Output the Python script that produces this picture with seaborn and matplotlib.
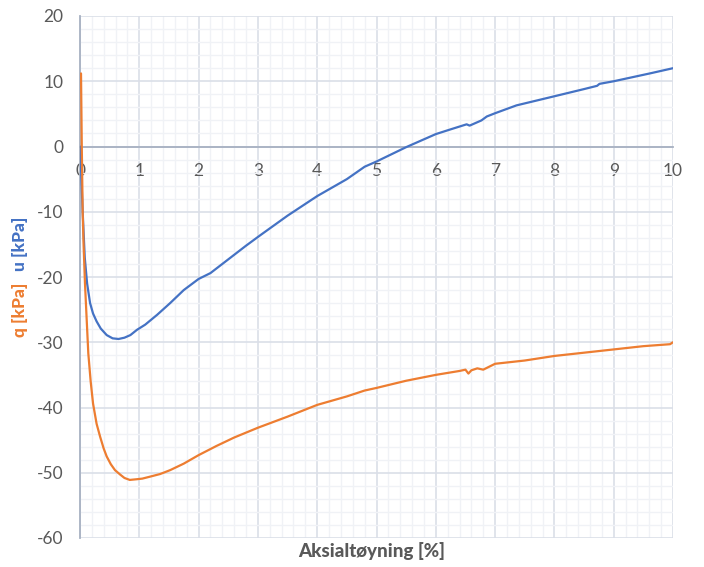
import numpy as np
import pandas as pd
import matplotlib
matplotlib.use('Agg')
import matplotlib.pyplot as plt
from matplotlib.ticker import MultipleLocator
import seaborn as sns

# strain [%] and pore pressure u [kPa] (blue curve)
u_strain = [0, 0.02, 0.045, 0.08, 0.12, 0.17, 0.22, 0.28, 0.35, 0.45, 0.55, 0.65,
            0.75, 0.85, 0.96, 1.1, 1.3, 1.52, 1.75, 2.0, 2.2, 2.5, 2.8, 3.04, 3.5,
            4.0, 4.5, 4.8, 5.0, 5.5, 6.0, 6.24, 6.52, 6.57, 6.77, 6.86, 7.0, 7.36,
            8.0, 8.5, 8.72, 8.76, 9.0, 9.61, 10.0]
u_kpa = [0, -4, -10, -17, -21, -24, -25.6, -26.8, -27.9, -28.9, -29.4, -29.5,
         -29.3, -28.9, -28.1, -27.3, -25.8, -24.0, -22.0, -20.3, -19.4, -17.3,
         -15.2, -13.6, -10.6, -7.6, -5.0, -3.1, -2.3, -0.1, 1.9, 2.6, 3.4, 3.2,
         4.0, 4.6, 5.1, 6.3, 7.7, 8.8, 9.3, 9.6, 10.0, 11.2, 12.0]

# strain [%] and deviator stress q [kPa] (orange curve)
q_strain = [0, 0.017, 0.03, 0.045, 0.06, 0.084, 0.11, 0.14, 0.18, 0.22, 0.28,
            0.34, 0.4, 0.45, 0.52, 0.59, 0.68, 0.75, 0.84, 0.95, 1.05, 1.18, 1.35,
            1.52, 1.75, 2.0, 2.3, 2.6, 3.0, 3.5, 4.0, 4.5, 4.8, 5.0, 5.5, 6.0, 6.4,
            6.5, 6.55, 6.6, 6.7, 6.8, 7.0, 7.5, 8.0, 8.5, 9.0, 9.5, 9.95, 10.0]
q_kpa = [11.0, 11.2, 0, -10, -15, -21, -26, -31.7, -36, -39.4, -42.5, -44.5,
         -46.3, -47.5, -48.7, -49.6, -50.3, -50.8, -51.1, -51.0, -50.9, -50.6,
         -50.2, -49.6, -48.6, -47.3, -45.9, -44.6, -43.1, -41.4, -39.6, -38.3,
         -37.4, -37.0, -35.9, -35.0, -34.4, -34.2, -34.8, -34.3, -34.0, -34.2,
         -33.3, -32.8, -32.1, -31.6, -31.1, -30.6, -30.3, -30.0]

x_ticks = list(range(0, 11))
y_ticks = list(range(-60, 21, 10))

orange = '#ED7D31'
blue = '#4472C4'
text_gray = '#595959'

sns.set_style('white')
plt.rcParams['font.family'] = ['Lato', 'DejaVu Sans']
plt.rcParams['axes.unicode_minus'] = False

fig = plt.figure(figsize=(7.04, 5.67), dpi=100)
ax = fig.add_axes([80 / 704, 1 - 538 / 567, 593 / 704, 522 / 567])

df_u = pd.DataFrame({'strain': u_strain, 'val': u_kpa})
df_q = pd.DataFrame({'strain': q_strain, 'val': q_kpa})
sns.lineplot(data=df_u, x='strain', y='val', sort=False, color=blue, lw=1.6, ax=ax, zorder=4)
sns.lineplot(data=df_q, x='strain', y='val', sort=False, color=orange, lw=1.6, ax=ax, zorder=5)

ax.set_xlim(0, 10)
ax.set_ylim(-60, 20)
ax.set_xticks(x_ticks)
ax.set_yticks(y_ticks)
ax.xaxis.set_minor_locator(MultipleLocator(0.2))
ax.yaxis.set_minor_locator(MultipleLocator(2))
ax.grid(which='major', color='#DADFE8', lw=1.2, zorder=0)
ax.grid(which='minor', color='#F0F2F6', lw=1.0, zorder=0)
ax.set_axisbelow(True)

for s in ['top', 'right']:
    ax.spines[s].set_visible(False)
ax.spines['left'].set_color('#A7B1C2')
ax.spines['left'].set_linewidth(1.3)
ax.spines['bottom'].set_position(('data', 0))
ax.spines['bottom'].set_color('#A7B1C2')
ax.spines['bottom'].set_linewidth(1.3)

ax.tick_params(which='both', length=0)
ax.tick_params(axis='x', pad=12, labelsize=12.5, labelcolor=text_gray)
ax.tick_params(axis='y', pad=12, labelsize=12.5, labelcolor=text_gray)
ax.set_xlabel('')
ax.set_ylabel('')

fig.text(372 / 704, 1 - 551 / 567, 'Aksialtøyning [%]', ha='center', va='center',
         fontsize=13.5, fontweight='black', color=text_gray)
fig.text(20 / 704, 1 - 310 / 567, 'q [kPa]', rotation=90, ha='center', va='center',
         fontsize=12.5, fontweight='black', color=orange)
fig.text(20 / 704, 1 - 244 / 567, 'u [kPa]', rotation=90, ha='center', va='center',
         fontsize=12.5, fontweight='black', color=blue)

fig.savefig('out.png', dpi=100)
